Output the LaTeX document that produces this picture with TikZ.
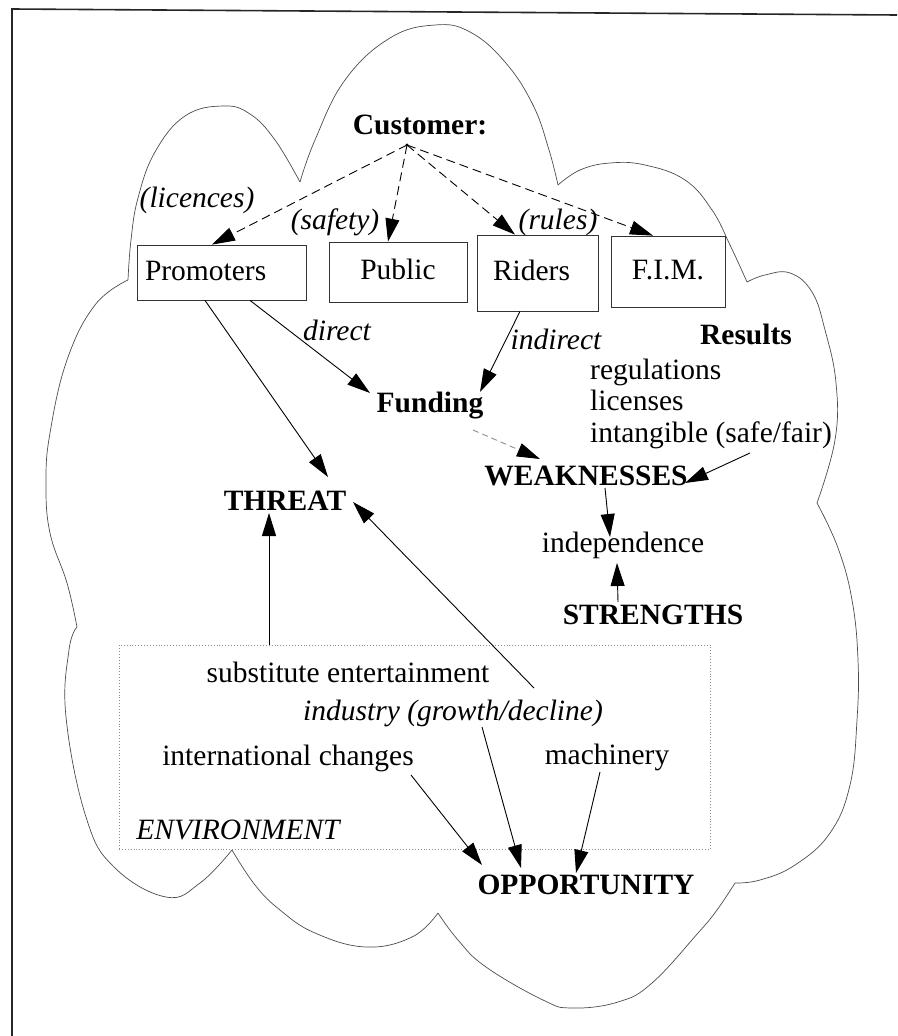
\documentclass[tikz,border=0pt]{standalone}
\usepackage{fontspec}
\setmainfont{Liberation Serif}
\usetikzlibrary{arrows.meta,calc}
\newcommand\diagfont{\fontsize{29.5}{34}\selectfont}
\begin{document}
\begin{tikzpicture}[x=1pt,y=-1pt,
  lbl/.style={inner sep=0pt, text height=21pt, text depth=6pt, font=\diagfont},
  lblb/.style={lbl, font=\diagfont\bfseries},
  lbli/.style={lbl, font=\diagfont\itshape},
  entity/.style={draw=black!80, line width=0.8pt, inner sep=0pt, text height=21pt, text depth=6pt, font=\diagfont},
  arr/.style={line width=0.9pt, -{Triangle[length=23pt,width=14pt]}},
  darr/.style={arr, dash pattern=on 9pt off 5pt},
  cloudline/.style={draw=black!70, line width=0.7pt, line join=round},
]
\useasboundingbox (0,0) rectangle (897,1036);

% page frame
\draw[line width=1.6pt, black!85] (12,1036) -- (12,9) -- (897,15);

% cloud outline, one arc per lobe
\draw[cloudline] plot[smooth, tension=0.7] coordinates {(128,280) (131,240) (138,198) (155,152) (185,116) (223,106) (250,114) (275,140) (300,182)};
\draw[cloudline] plot[smooth, tension=0.7] coordinates {(300,182) (315,140) (345,80) (390,38) (435,25) (470,32) (505,62) (533,105) (549,150) (558,185)};
\draw[cloudline] plot[smooth, tension=0.7] coordinates {(558,185) (580,170) (610,163) (645,165) (685,180) (712,210) (730,245) (747,282)};
\draw[cloudline] plot[smooth, tension=0.7] coordinates {(747,282) (765,275) (790,273) (812,292) (825,330) (836,383) (835,440) (817,503)};
\draw[cloudline] plot[smooth, tension=0.7] coordinates {(817,503) (838,548) (852,600) (858,660) (857,720) (850,785) (830,833) (795,865) (760,880) (735,883)};
\draw[cloudline] plot[smooth, tension=0.7] coordinates {(735,883) (717,910) (698,933) (652,983) (618,1002) (572,1008) (543,1000) (486,967) (458,940) (438,913)};
\draw[cloudline] plot[smooth, tension=0.7] coordinates {(438,913) (412,937) (366,947) (315,933) (280,910) (255,885) (232,850)};
\draw[cloudline] plot[smooth, tension=0.7] coordinates {(232,850) (200,883) (166,897) (114,867) (86,817) (66,717) (69,650) (77,627)};
\draw[cloudline] plot[smooth, tension=0.7] coordinates {(77,627) (67,583) (50,533) (46,483) (50,433) (67,360) (95,305) (128,280)};

% customer groups
\node[lblb] (cust) at (420,127) {Customer:};
\coordinate (hub) at ($(cust.center)+(-13,18)$);
\fill (hub) circle (1.6);
\node[lbli] (lic) at (197,200) {(licences)};
\node[lbli] (saf) at (335,222) {(safety)};
\node[lbli] (rul) at (558,222) {(rules)};

\node[entity, minimum width=169pt, minimum height=55pt, text width=153pt, align=left] (prom) at (221.5,272.5) {Promoters};
\node[entity, minimum width=138pt, minimum height=60pt] (pub) at (398,272) {Public};
\node[entity, minimum width=121pt, minimum height=76pt, text width=89pt, align=left] (rid) at (537.5,273) {Riders};
\node[entity, minimum width=114pt, minimum height=71pt] (fim) at (668,271.5) {F.I.M.};

% middle labels
\node[lbli] (direct) at (337,333) {direct};
\node[lbli] (indirect) at (556,342) {indirect};
\node[lblb] (res) at (746,337) {Results};
\node[lbl, anchor=west] (reg) at (590,372) {regulations};
\node[lbl, anchor=west] (lcs) at (590,403) {licenses};
\node[lbl, anchor=west] (intg) at (590,435) {intangible (safe/fair)};
\node[lblb] (fund) at (430,405) {Funding};
\node[lblb] (weak) at (586,478) {WEAKNESSES};
\node[lblb] (threat) at (285,503) {THREAT};
\node[lbl] (indep) at (623,545) {independence};
\node[lblb] (str) at (653,617) {STRENGTHS};

% environment
\node[draw=black!45, dotted, line width=0.9pt, minimum width=591pt, minimum height=204pt, inner sep=0pt] (env) at (414.5,747) {};
\node[lbl] (subst) at (348,675) {substitute entertainment};
\node[lbli] (ind) at (453,713) {industry (growth/decline)};
\node[lbl] (intl) at (288,758) {international changes};
\node[lbl] (mach) at (607,757) {machinery};
\node[lbli] (envl) at (238,832) {ENVIRONMENT};
\node[lblb] (opp) at (586,887) {OPPORTUNITY};

% customer links
\draw[darr] (hub) -- ($(prom.north)+(-9.5,0)$);
\draw[darr] (hub) -- ($(pub.north)+(-10,0)$);
\draw[darr] (hub) -- ($(rid.north)+(-22.5,0)$);
\draw[darr] (hub) -- ($(fim.north)+(-15,0)$);

% funding and results
\draw[arr] ($(prom.south)+(-16.5,0)$) -- ($(threat.center)+(43,-26)$);
\draw[arr] ($(prom.south)+(28.5,0)$) -- ($(fund.center)+(-60,-12)$);
\draw[arr] ($(rid.south)+(-17.5,0)$) -- ($(fund.center)+(50,-13)$);
\draw[line width=0.9pt, draw=black!45, dash pattern=on 6pt off 4pt, -{Triangle[length=23pt,width=14pt,color=black]}] ($(fund.center)+(43,25)$) -- ($(weak.center)+(-46,-19)$);
\draw[arr] ($(intg.west)+(160,18)$) -- ($(weak.center)+(99,5)$);
\draw[arr] ($(weak.center)+(19,10)$) -- ($(indep.center)+(-13,-8)$);
\draw[arr] ($(str.center)+(-35,-15)$) -- ($(indep.center)+(-6,18)$);

% environment links
\draw[arr] ($(env.north)+(-145.5,0)$) -- ($(threat.center)+(-16,10)$);
\draw[arr] ($(ind.center)+(81,-25)$) -- ($(threat.center)+(68,-1)$);
\draw[arr] ($(intl.center)+(123,17)$) -- ($(opp.center)+(-104,-22)$);
\draw[arr] ($(ind.center)+(29,14)$) -- ($(opp.center)+(-65,-19)$);
\draw[arr] ($(mach.center)+(-7,15)$) -- ($(opp.center)+(-10,-14)$);
\end{tikzpicture}
\end{document}
